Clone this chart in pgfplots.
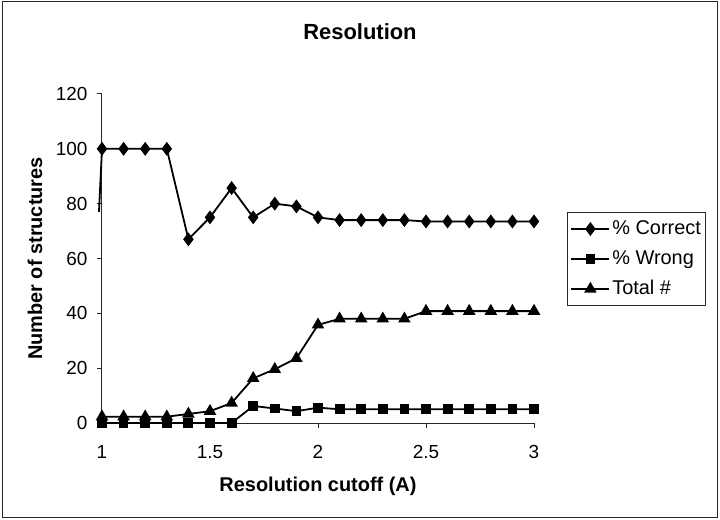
\documentclass[border=0pt]{standalone}
\usepackage{fontspec}
\setmainfont{Liberation Sans}
\usepackage{pgfplots}
\pgfplotsset{compat=1.18}
\pgfplotstableread{
x correct wrong total
1.0 100 0 2.3
1.1 100 0 2.3
1.2 100 0 2.3
1.3 100 0 2.3
1.4 67 0 3.3
1.5 75 0 4.3
1.6 85.7 0 7.3
1.7 75 6.2 16.3
1.8 80 5.3 19.6
1.9 79 4.3 23.6
2.0 75 5.6 35.8
2.1 74 5 38
2.2 74 5 38
2.3 74 5 38
2.4 74 5 38
2.5 73.5 5 40.8
2.6 73.5 5 40.8
2.7 73.5 5 40.8
2.8 73.5 5 40.8
2.9 73.5 5 40.8
3.0 73.5 5 40.8
}\datatable
\begin{document}
\begin{tikzpicture}
\path (-102bp,-97bp) rectangle (618bp,423bp);
\draw[line width=1bp, black!85] (-99bp,-94bp) rectangle (615bp,421bp);
\node[font=\fontsize{22}{26}\selectfont\bfseries] at (258bp,391bp) {Resolution};
\begin{axis}[
  scale only axis,
  width=432bp, height=329bp,
  xmin=1, xmax=3, ymin=0, ymax=120,
  axis lines*=left,
  axis line style={line width=1bp, black!85},
  xtick={1,1.5,2,2.5,3},
  ytick={0,20,...,120},
  xticklabels={1,1.5,2,2.5,3},
  tick align=outside,
  major tick length=5bp,
  tick style={line width=1bp, black!85},
  /pgf/number format/assume math mode=true,
  tick label style={font=\fontsize{19}{22}\selectfont},
  yticklabel style={anchor=east, xshift=-6bp},
  xticklabel style={anchor=north, yshift=-14bp},
  xlabel={Resolution cutoff (A)},
  ylabel={Number of structures},
  label style={font=\fontsize{20}{24}\selectfont\bfseries},
  xlabel style={at={(axis description cs:0.5,-0.1915)}, anchor=center},
  ylabel style={at={(axis description cs:-0.155,0.5)}, anchor=center},
  clip=false,
  every axis plot/.append style={line width=1.8bp, black, mark options={solid}},
  legend image code/.code={
    \draw[#1, mark repeat=2, mark phase=2] plot coordinates {(0bp,0bp) (19bp,0bp) (38bp,0bp)};
  },
  legend style={at={(axis description cs:1.0764,0.3556)}, anchor=south west,
    draw=black!85, line width=1bp, font=\fontsize{20}{23}\selectfont,
    inner xsep=3bp, inner ysep=5.5bp, row sep=8bp,
    nodes={inner sep=2bp, text height=14bp, text depth=4bp},
    cells={anchor=west}},
]
\addplot[mark=diamond*, mark size=5.5bp] table[x=x, y=correct] {\datatable};
\addlegendentry{\% Correct}
\addplot[mark=square*, mark size=4bp] table[x=x, y=wrong] {\datatable};
\addlegendentry{\% Wrong}
\addplot[mark=triangle*, mark size=5.5bp] table[x=x, y=total] {\datatable};
\addlegendentry{Total \#}
\addplot[no marks, forget plot] coordinates {(0.986,77) (1.0,100)};
\end{axis}
\end{tikzpicture}
\end{document}
